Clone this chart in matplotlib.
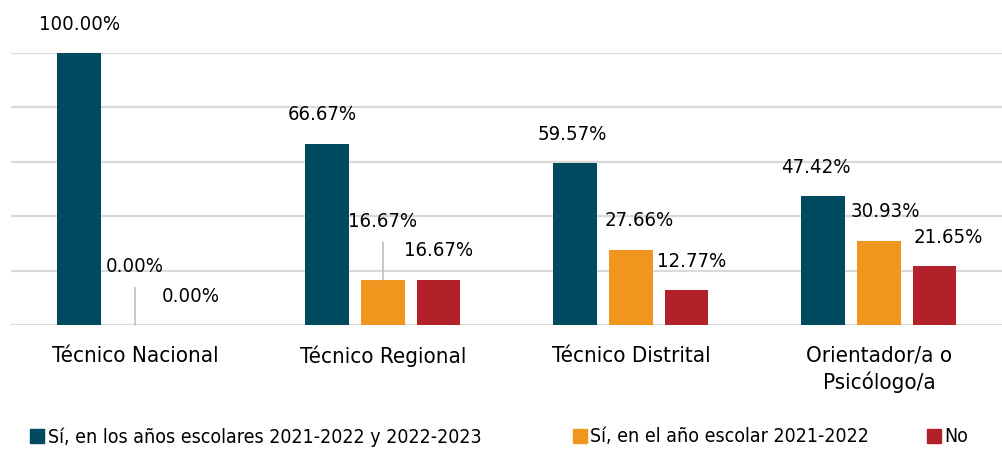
import matplotlib.pyplot as plt
import numpy as np
from matplotlib.patches import Patch

# datos
categorias = ['Técnico Nacional', 'Técnico Regional', 'Técnico Distrital', 'Orientador/a o\nPsicólogo/a']
series = ['Sí, en los años escolares 2021-2022 y 2022-2023', 'Sí, en el año escolar 2021-2022', 'No']
si_ambos = [100.00, 66.67, 59.57, 47.42]
si_2021 = [0.00, 16.67, 27.66, 30.93]
no = [0.00, 16.67, 12.77, 21.65]

colores = ['#004a5f', '#f0961e', '#b2202a']

plt.rcParams['font.family'] = ['DejaVu Sans']
plt.rcParams['font.stretch'] = 'condensed'

fig = plt.figure(figsize=(10.02, 4.5), dpi=100)
ax = fig.add_axes([11 / 1002, 125 / 450, 991 / 1002, 272 / 450])

x = np.arange(len(categorias))
ancho = 0.177
desp = 0.224
valores = [si_ambos, si_2021, no]

# etiquetas con linea guia (serie, categoria)
guias = {(1, 0), (1, 1)}
# pequeños corrimientos horizontales de etiquetas (px)
corr_x = {(0, 1): -5, (0, 2): -3, (0, 3): -8, (1, 2): 8, (2, 2): 5, (1, 3): 6, (2, 3): 14}

for i, (vals, color, nombre) in enumerate(zip(valores, colores, series)):
    pos = x + (i - 1) * desp
    ax.bar(pos, vals, ancho, color=color, label=nombre, zorder=3)
    for j, (px, v) in enumerate(zip(pos, vals)):
        dx = corr_x.get((i, j), 0) * 0.72
        if (i, j) in guias:
            ax.annotate(f'{v:.2f}%', (px, v), xytext=(dx, 35), textcoords='offset points',
                        ha='center', va='bottom', fontsize=14.6,
                        arrowprops=dict(arrowstyle='-', color='#bfbfbf', lw=1.2, shrinkA=6, shrinkB=0))
        else:
            ax.annotate(f'{v:.2f}%', (px, v), xytext=(dx, 14), textcoords='offset points',
                        ha='center', va='bottom', fontsize=14.6)

ax.set_ylim(0, 100)
ax.set_xlim(-0.5, 3.496)
ax.set_yticks(np.arange(0, 101, 20))
ax.yaxis.grid(True, color='#d9d9d9', lw=1.6, zorder=0)
ax.set_yticklabels([])
ax.tick_params(axis='y', length=0)
ax.set_xticks(x)
ax.set_xticklabels(categorias, fontsize=16, linespacing=1.3)
ax.tick_params(axis='x', length=0, pad=15)
for s in ax.spines.values():
    s.set_visible(False)

# leyenda: una entrada por posición
x_leyenda = [30, 573, 927]
for nombre, color, xl in zip(series, colores, x_leyenda):
    fig.legend(handles=[Patch(color=color, label=nombre)], loc='center left',
               bbox_to_anchor=(xl / 1002, 13 / 450), frameon=False, fontsize=14,
               handlelength=0.7, handleheight=0.7, handletextpad=0.2,
               borderpad=0, borderaxespad=0)

plt.savefig('out.png', dpi=100)
